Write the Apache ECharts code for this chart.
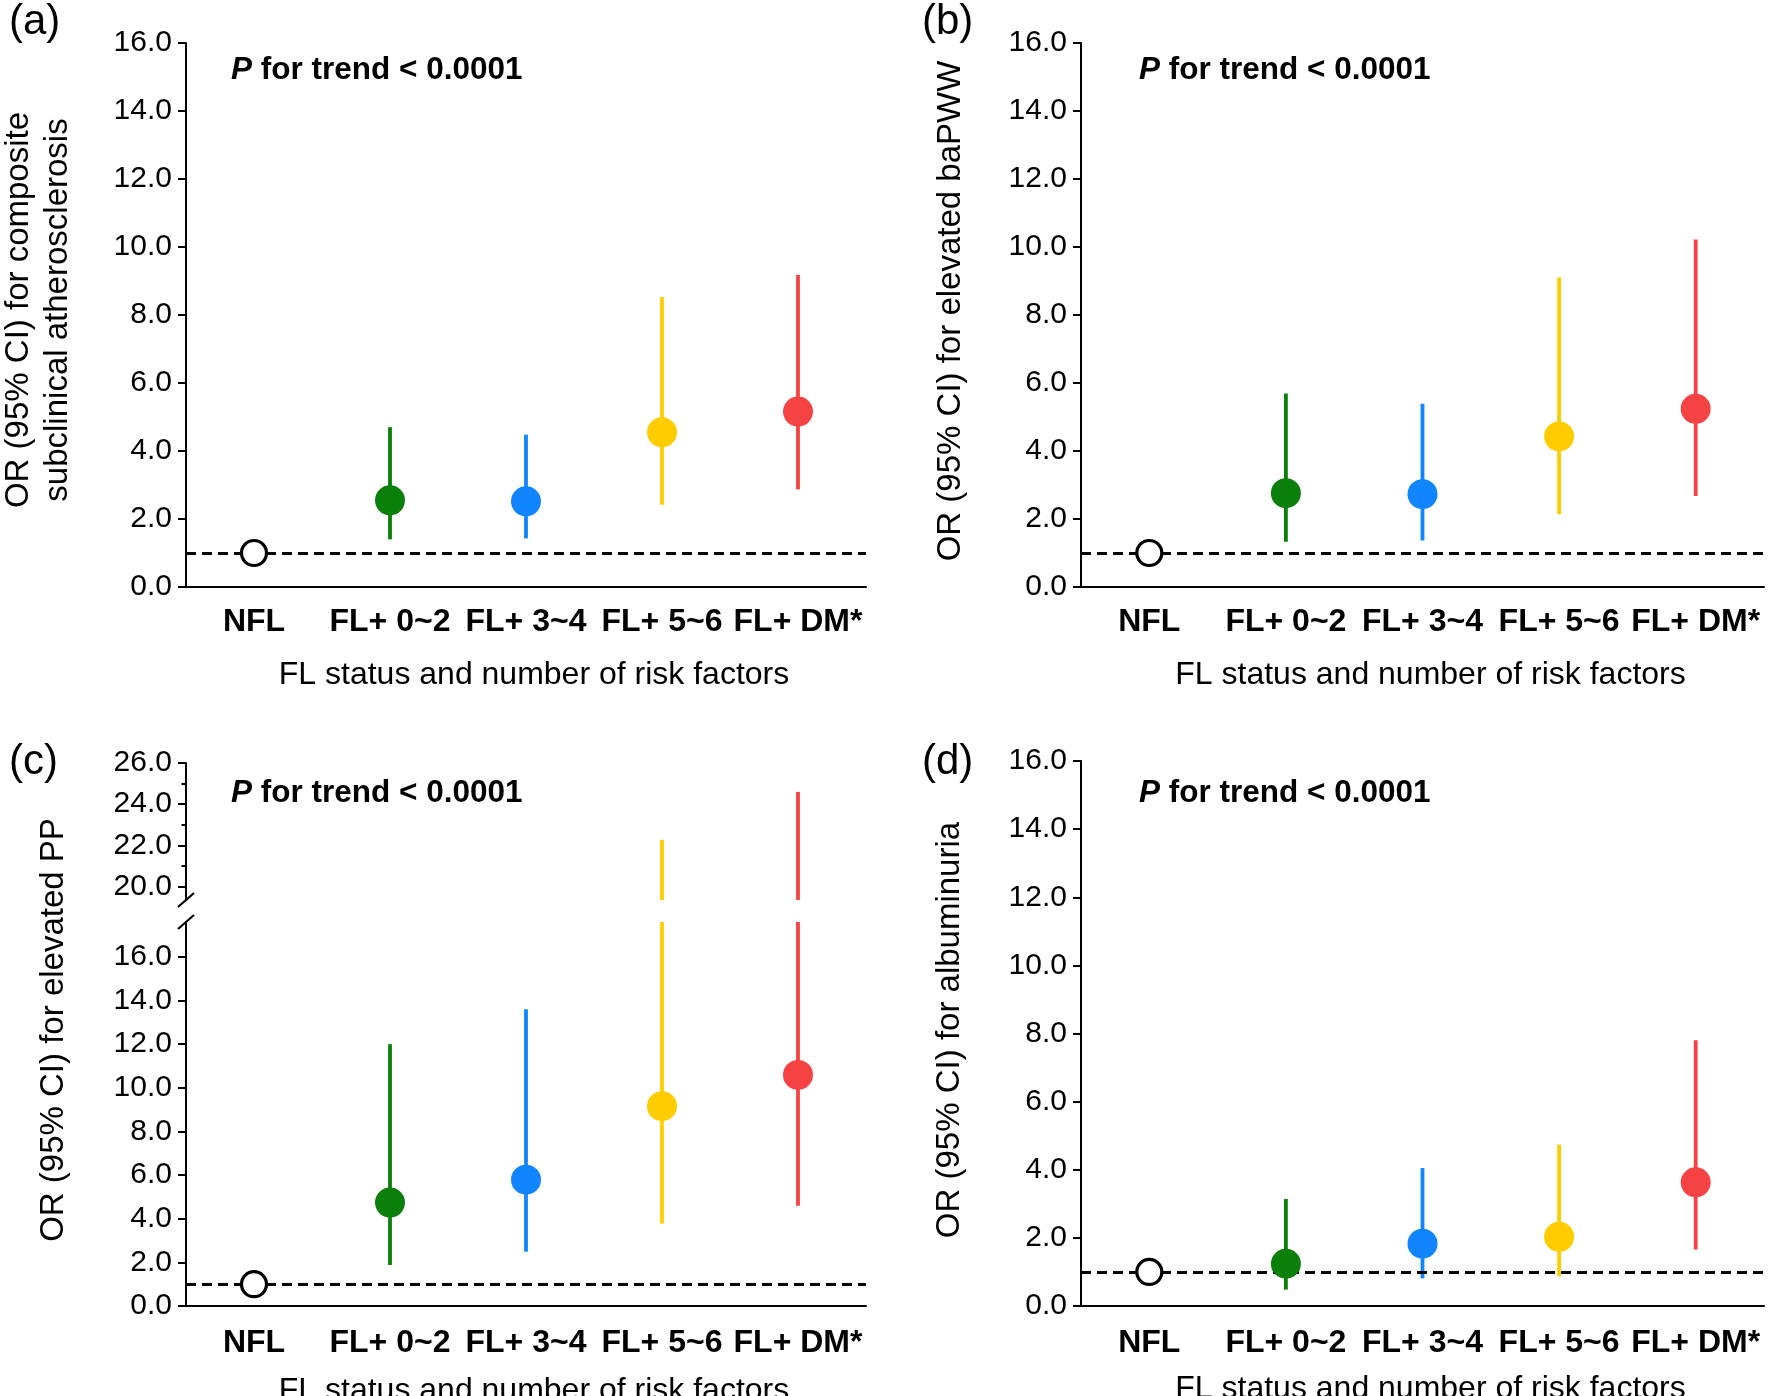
<!DOCTYPE html>
<html><head><meta charset="utf-8">
<script src="https://cdn.jsdelivr.net/npm/echarts@6/dist/echarts.min.js"></script>
<style>html,body{margin:0;padding:0;background:#fff}#c{width:1770px;height:1396px}</style>
</head><body><div id="c"></div>
<script>
// ---------- data ----------
const categories = ['NFL', 'FL+ 0~2', 'FL+ 3~4', 'FL+ 5~6', 'FL+ DM*'];
const yTicks = [0, 2, 4, 6, 8, 10, 12, 14, 16];
const yTicksUpperC = [20, 22, 24, 26];
const yMinorTicksUpperC = [21, 23, 25];
const refLine = 1;

// (a) composite subclinical atherosclerosis
const orA   = [1.0, 2.55, 2.52, 4.55, 5.16];
const lowA  = [1.0, 1.40, 1.43, 2.42, 2.87];
const highA = [1.0, 4.70, 4.48, 8.53, 9.18];
// (b) elevated baPWV
const orB   = [1.0, 2.76, 2.73, 4.43, 5.24];
const lowB  = [1.0, 1.33, 1.37, 2.14, 2.68];
const highB = [1.0, 5.69, 5.39, 9.11, 10.22];
// (c) elevated PP
const orC   = [1.0, 4.74, 5.79, 9.16, 10.59];
const lowC  = [1.0, 1.88, 2.49, 3.78, 4.60];
const highC = [1.0, 12.0, 13.6, 22.27, 24.6];
// (d) albuminuria
const orD   = [1.0, 1.24, 1.83, 2.03, 3.63];
const lowD  = [1.0, 0.48, 0.81, 0.88, 1.66];
const highD = [1.0, 3.14, 4.05, 4.74, 7.80];

const panelLabels = ['(a)', '(b)', '(c)', '(d)'];
const yTitles = [
  'OR (95% CI) for composite\nsubclinical atherosclerosis',
  'OR (95% CI) for elevated baPWW',
  'OR (95% CI) for elevated PP',
  'OR (95% CI) for albuminuria'
];
const xTitle = 'FL status and number of risk factors';
const trendRest = ' for trend < 0.0001';

// ---------- styles ----------
const FONT = '"Liberation Sans", Arial, Helvetica, sans-serif';
const pointColors = ['#ffffff', '#0a7f0a', '#1184ff', '#ffcc00', '#f54343'];
const UPPER_MIN = 19.35, UPPER_MAX = 26, LOWER_MAX_C = 17.6;

const chart = echarts.init(document.getElementById('c'), null, {renderer: 'canvas'});

const grids = [
  {left: 186, top: 43, width: 680, height: 544},   // a
  {left: 1081, top: 43, width: 683, height: 544},  // b
  {left: 186, top: 763, width: 680, height: 137},  // c upper
  {left: 186, top: 922, width: 680, height: 384},  // c lower
  {left: 1081, top: 761, width: 683, height: 545}  // d
].map(g => Object.assign({containLabel: false, outerBoundsMode: 'none'}, g));

function xAx(gi, show, labelMargin, nameGap) {
  return {
    gridIndex: gi, type: 'category', data: categories, boundaryGap: true, show: show,
    axisLine: {show: true, lineStyle: {color: '#000', width: 2}},
    axisTick: {show: false},
    axisLabel: {interval: 0, fontSize: 32, fontWeight: 'bold', color: '#000', margin: labelMargin, fontFamily: FONT},
    splitLine: {show: false},
    name: show ? xTitle : '', nameLocation: 'middle', nameGap: nameGap,
    nameTextStyle: {fontSize: 32, color: '#000', fontFamily: FONT, padding: [0, 0, 0, 16]}
  };
}
function yAx(gi, min, max, ticks) {
  return {
    gridIndex: gi, type: 'value', min: min, max: max, position: 'left',
    axisLine: {show: true, lineStyle: {color: '#000', width: 2}},
    axisTick: {show: true, length: 8, lineStyle: {color: '#000', width: 2}, customValues: ticks},
    axisLabel: {customValues: ticks, formatter: v => Number(v).toFixed(1), fontSize: 30, color: '#000', margin: 14, fontFamily: FONT},
    splitLine: {show: false}
  };
}

const xAxes = [xAx(0, true, 19, 72), xAx(1, true, 19, 72), xAx(2, false, 18, 68), xAx(3, true, 21, 69), xAx(4, true, 21, 67)];
const yAxes = [
  yAx(0, 0, 16, yTicks),
  yAx(1, 0, 16, yTicks),
  yAx(2, UPPER_MIN, UPPER_MAX, yTicksUpperC),
  yAx(3, 0, LOWER_MAX_C, yTicks),
  yAx(4, 0, 16, yTicks),
  {gridIndex: 2, type: 'value', min: UPPER_MIN, max: UPPER_MAX, position: 'left', offset: 0,
   axisLine: {show: false},
   axisTick: {show: true, length: 4.5, lineStyle: {color: '#000', width: 2}, customValues: yMinorTicksUpperC},
   axisLabel: {show: false}, splitLine: {show: false}}
];

function ciSeries(xi, yi, low, high, yMin, yMax, withRef) {
  const s = {
    type: 'custom', xAxisIndex: xi, yAxisIndex: yi, z: 2, silent: true, animation: false,
    data: categories.map((c, i) => [i, low[i], high[i]]).filter(d => d[2] > d[1]),
    renderItem: function (params, api) {
      const i = api.value(0);
      const l = Math.max(api.value(1), yMin);
      const h = Math.min(api.value(2), yMax);
      if (h <= l) return null;
      const p1 = api.coord([i, l]);
      const p2 = api.coord([i, h]);
      return {type: 'line', shape: {x1: p1[0], y1: p1[1], x2: p2[0], y2: p2[1]},
              style: {stroke: pointColors[i], lineWidth: 3.8, lineCap: 'butt', opacity: 1}};
    }
  };
  if (withRef) {
    s.markLine = {silent: true, symbol: ['none', 'none'], animation: false,
      label: {show: false}, emphasis: {disabled: true},
      lineStyle: {type: [10, 6], color: '#000', width: 3.2, opacity: 1},
      data: [{yAxis: refLine}]};
  }
  return s;
}
function pointSeries(xi, yi, or) {
  return {
    type: 'scatter', xAxisIndex: xi, yAxisIndex: yi, z: 5, silent: true, animation: false,
    symbol: 'circle', symbolSize: 30, itemStyle: {opacity: 1},
    emphasis: {disabled: true},
    data: categories.map((c, i) => i === 0
      ? {value: [i, or[i]], symbolSize: 25, itemStyle: {color: '#fff', borderColor: '#000', borderWidth: 3.2, opacity: 1}}
      : {value: [i, or[i]], itemStyle: {color: pointColors[i], opacity: 1}})
  };
}

const series = [
  ciSeries(0, 0, lowA, highA, 0, 16, true), pointSeries(0, 0, orA),
  ciSeries(1, 1, lowB, highB, 0, 16, true), pointSeries(1, 1, orB),
  ciSeries(2, 2, lowC, highC, UPPER_MIN, UPPER_MAX, false),
  ciSeries(3, 3, lowC, highC, 0, LOWER_MAX_C, true), pointSeries(3, 3, orC),
  ciSeries(4, 4, lowD, highD, 0, 16, true), pointSeries(4, 4, orD)
];

function txt(x, y, text, size, extra) {
  return {type: 'text', x: x, y: y, silent: true,
    style: Object.assign({text: text, fontSize: size, fontFamily: FONT, fill: '#000',
      align: 'left', verticalAlign: 'middle'}, extra || {})};
}
function trend(x, y) {
  return {type: 'text', x: x, y: y, silent: true,
    style: {text: '{i|P}{b|' + trendRest + '}', verticalAlign: 'middle', align: 'left',
      rich: {
        i: {fontSize: 31.5, fontWeight: 'bold', fontStyle: 'italic', fontFamily: FONT, fill: '#000'},
        b: {fontSize: 31.5, fontWeight: 'bold', fontFamily: FONT, fill: '#000'}
      }}};
}
function ytitle(x, y, text) {
  return {type: 'text', x: x, y: y, rotation: Math.PI / 2, silent: true,
    style: {text: text, fontSize: 33, fontFamily: FONT, fill: '#000', align: 'center',
      verticalAlign: 'middle', lineHeight: 39}};
}
function slash(cx, cy) {
  return {type: 'line', silent: true, shape: {x1: cx - 8, y1: cy + 7, x2: cx + 8, y2: cy - 7},
    style: {stroke: '#000', lineWidth: 2.2}};
}

const graphic = [
  txt(9, 22, panelLabels[0], 42), txt(922, 22, panelLabels[1], 42),
  txt(9, 762, panelLabels[2], 42), txt(922, 762, panelLabels[3], 42),
  trend(231, 70), trend(1139, 70), trend(231, 793), trend(1139, 793),
  ytitle(38, 310, yTitles[0]), ytitle(951, 311, yTitles[1]),
  ytitle(54, 1030, yTitles[2]), ytitle(950, 1030, yTitles[3]),
  slash(186, 900), slash(186, 922)
];

chart.setOption({
  animation: false,
  backgroundColor: '#fff',
  textStyle: {fontFamily: FONT},
  grid: grids,
  xAxis: xAxes,
  yAxis: yAxes,
  series: series,
  graphic: graphic
});
</script></body></html>
